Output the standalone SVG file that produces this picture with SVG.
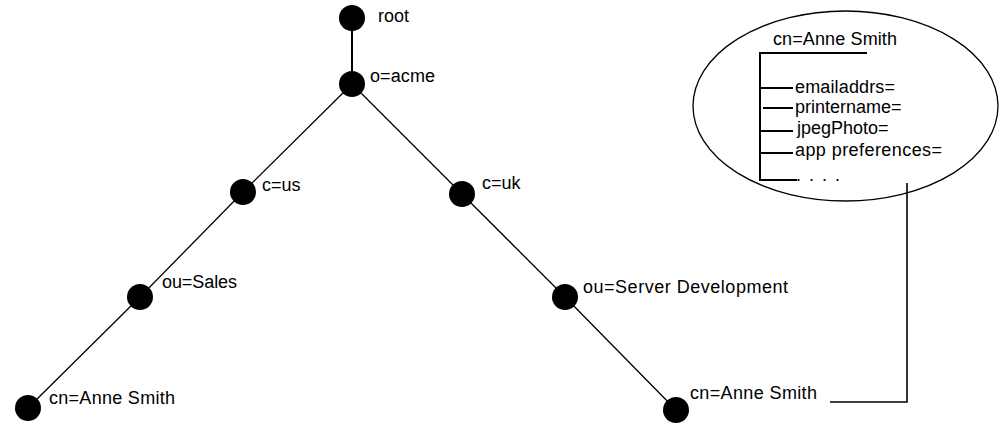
<svg xmlns="http://www.w3.org/2000/svg" width="1001" height="423" viewBox="0 0 1001 423">
<style>
  .node { fill: #000; }
  .lbl { font-family: "Liberation Sans", Arial, sans-serif; font-size: 18px; fill: #000; }
  .edge { stroke: #000; stroke-width: 1.3; fill: none; }
  .tree { stroke: #000; stroke-width: 2; fill: none; }
</style>
<rect width="1001" height="423" fill="#fff"/>
<g id="connectors">
  <line class="edge" x1="352" y1="18" x2="352" y2="84" style="stroke-width:2"/>
  <line class="edge" x1="352" y1="84" x2="243" y2="192"/>
  <line class="edge" x1="243" y1="192" x2="140" y2="297"/>
  <line class="edge" x1="140" y1="297" x2="28" y2="408"/>
  <line class="edge" x1="352" y1="84" x2="462" y2="194"/>
  <line class="edge" x1="462" y1="194" x2="565" y2="297"/>
  <line class="edge" x1="565" y1="297" x2="676" y2="410"/>
  <polyline class="edge" points="830,402 907,402 907,183" style="stroke-width:1.6"/>
</g>
<g id="node-root">
  <circle class="node" cx="352" cy="18" r="13"/>
  <text class="lbl" x="378" y="22">root</text>
</g>
<g id="node-acme">
  <circle class="node" cx="352" cy="84" r="13"/>
  <text class="lbl" x="370" y="82" textLength="65" lengthAdjust="spacing">o=acme</text>
</g>
<g id="node-us">
  <circle class="node" cx="243" cy="192" r="13"/>
  <text class="lbl" x="262" y="191">c=us</text>
</g>
<g id="node-uk">
  <circle class="node" cx="462" cy="194" r="13"/>
  <text class="lbl" x="482" y="189">c=uk</text>
</g>
<g id="node-sales">
  <circle class="node" cx="140" cy="297" r="13"/>
  <text class="lbl" x="162" y="288" textLength="75" lengthAdjust="spacing">ou=Sales</text>
</g>
<g id="node-server">
  <circle class="node" cx="565" cy="297" r="13"/>
  <text class="lbl" x="583" y="293" textLength="205" lengthAdjust="spacing">ou=Server Development</text>
</g>
<g id="node-cn-left">
  <circle class="node" cx="28" cy="408" r="13"/>
  <text class="lbl" x="49" y="404" textLength="126" lengthAdjust="spacing">cn=Anne Smith</text>
</g>
<g id="node-cn-right">
  <circle class="node" cx="676" cy="410" r="13"/>
  <text class="lbl" x="690" y="399" textLength="127" lengthAdjust="spacing">cn=Anne Smith</text>
</g>
<g id="node-entry">
  <ellipse cx="845.5" cy="106" rx="152.5" ry="95" fill="none" stroke="#000" stroke-width="1.3"/>
  <text class="lbl" x="773" y="45" textLength="124" lengthAdjust="spacing">cn=Anne Smith</text>
  <polyline class="tree" points="867,53 760,53 760,180 797,180"/>
  <line class="tree" x1="760" y1="88" x2="793" y2="88"/>
  <line class="tree" x1="763" y1="108" x2="793" y2="108"/>
  <line class="tree" x1="760" y1="131" x2="793" y2="131"/>
  <line class="tree" x1="760" y1="153" x2="793" y2="153"/>
  <text class="lbl" x="795" y="93" textLength="100" lengthAdjust="spacing">emailaddrs=</text>
  <text class="lbl" x="795" y="113">printername=</text>
  <text class="lbl" x="797" y="134">jpegPhoto=</text>
  <text class="lbl" x="795" y="156" textLength="147" lengthAdjust="spacing">app preferences=</text>
  <text class="lbl" x="796" y="181" textLength="44" lengthAdjust="spacing">. . . .</text>
</g>
</svg>
